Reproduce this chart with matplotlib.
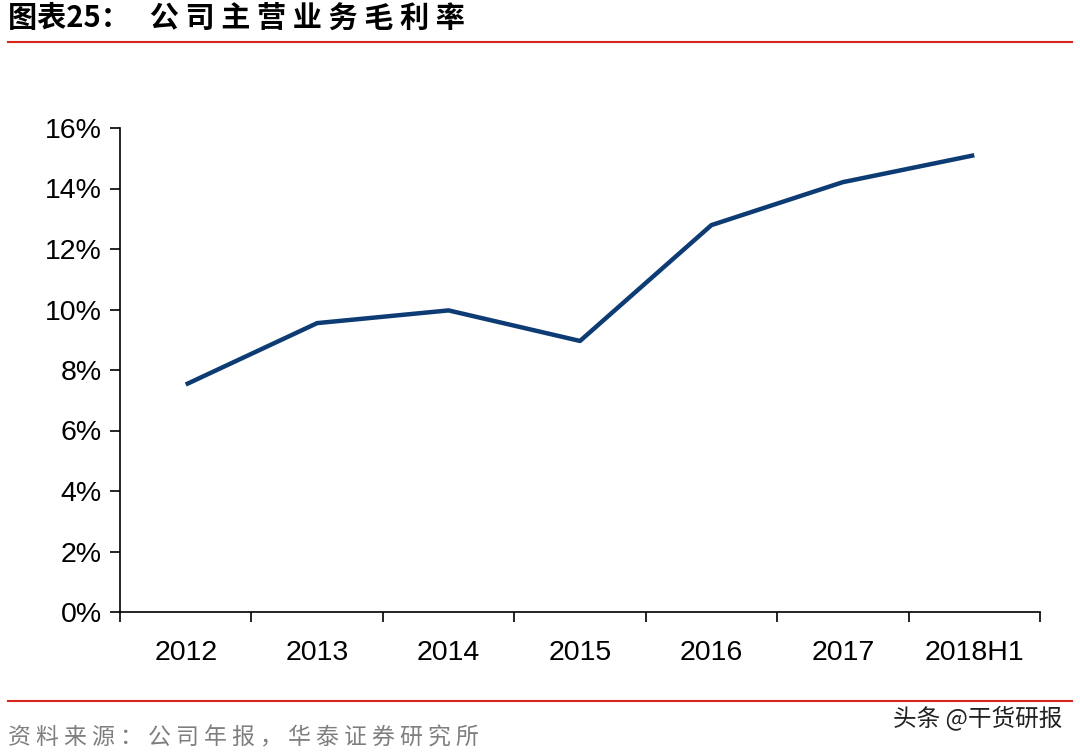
import matplotlib
matplotlib.use("Agg")
import matplotlib.pyplot as plt
from matplotlib.lines import Line2D
import numpy as np

categories = ["2012", "2013", "2014", "2015", "2016", "2017", "2018H1"]
margin = [7.52, 9.55, 9.97, 8.96, 12.79, 14.21, 15.1]
yticks = [0, 2, 4, 6, 8, 10, 12, 14, 16]

cjk = "Noto Sans CJK SC"
fig = plt.figure(figsize=(10.8, 7.54), dpi=100)
ax = fig.add_axes([120/1080, 1-612/754, 920/1080, 484/754])
x = np.arange(len(categories))
ax.plot(x, margin, color="#0d3b74", lw=3.2, solid_capstyle="butt")
ax.set_xlim(-0.5, len(categories)-0.5)
ax.set_ylim(0, 16)
ax.set_yticks(yticks)
ax.set_yticklabels([f"{v}%" for v in yticks], fontsize=20.5, fontfamily="Liberation Sans")
ax.set_xticks(np.arange(-0.5, len(categories)))
ax.set_xticklabels([])
ax.set_xticks(x, minor=True)
ax.set_xticklabels(categories, minor=True, fontsize=20.5, fontfamily="Liberation Sans")
ax.tick_params(axis="x", which="minor", length=0, pad=20)
ax.tick_params(axis="x", which="major", direction="out", length=7, width=1.2)
ax.tick_params(axis="y", direction="out", length=7, width=1.2, pad=6)
for s in ["top", "right"]:
    ax.spines[s].set_visible(False)
for s in ["left", "bottom"]:
    ax.spines[s].set_linewidth(1.2)

fig.text(8/1080, 1-18/754, "图表25：   公 司 主 营 业 务 毛 利 率", fontsize=21, fontweight="bold",
         fontfamily=cjk, va="center", ha="left")
fig.add_artist(Line2D([8/1080, 1072/1080], [1-42/754]*2, color="#d9261c", lw=1.5))
fig.add_artist(Line2D([8/1080, 1072/1080], [1-701/754]*2, color="#d9261c", lw=1.5))
fig.text(8/1080, 1-738/754, "资 料 来 源 ： 公 司 年 报 ， 华 泰 证 券 研 究 所", fontsize=16.5,
         fontfamily=cjk, color="#7f7f7f", va="center", ha="left")
fig.text(1062/1080, 1-718/754, "头条 @干货研报", fontsize=17, fontfamily=cjk,
         color="#222222", va="center", ha="right")
fig.savefig("out.png", dpi=100)
